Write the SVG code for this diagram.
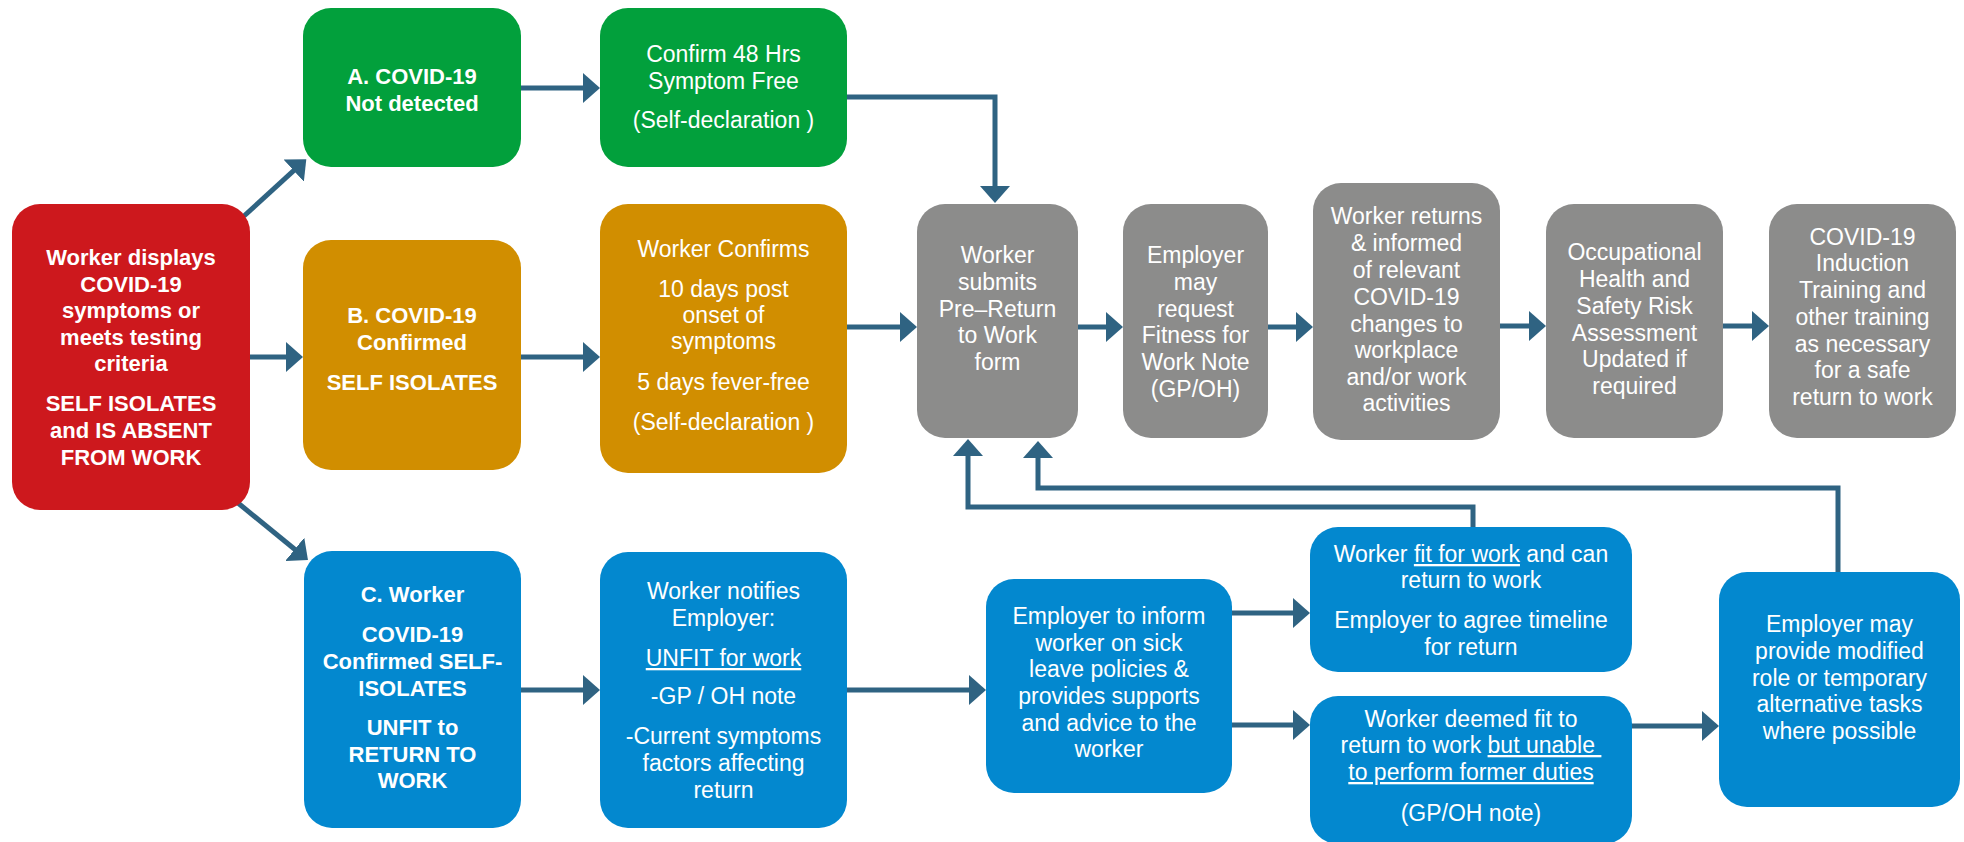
<svg xmlns="http://www.w3.org/2000/svg" width="1964" height="842" viewBox="0 0 1964 842">
<style>
.box{stroke:none}
.red{fill:#CD181D}
.green{fill:#02A03C}
.orange{fill:#D18E00}
.gray{fill:#8C8C8B}
.blue{fill:#0388CF}
text{font-family:"Liberation Sans",Arial,Helvetica,sans-serif;font-size:23px;fill:#FFFFFF;text-anchor:middle}
.b{font-weight:bold;font-size:22px}
.u{text-decoration:underline}
.conn{fill:none;stroke:#2F6382;stroke-width:5;marker-end:url(#ah)}
</style>
<defs>
<marker id="ah" viewBox="0 0 17 30" markerWidth="17" markerHeight="30" refX="7" refY="15" orient="auto" markerUnits="userSpaceOnUse">
<path d="M0,0 L17,15 L0,30 Z" fill="#2F6382"/>
</marker>
</defs>

<g id="connectors">
<path class="conn" d="M244,216 L298.9,165.9"/>
<path class="conn" d="M250,357 L293,357"/>
<path class="conn" d="M238,503 L300.2,553.7"/>
<path class="conn" d="M521,88 L590,88"/>
<path class="conn" d="M520,357 L590,357"/>
<path class="conn" d="M521,690 L590,690"/>
<path class="conn" d="M847,97 L995,97 L995,193"/>
<path class="conn" d="M847,327 L907,327"/>
<path class="conn" d="M1078,327 L1113,327"/>
<path class="conn" d="M1268,327 L1303,327"/>
<path class="conn" d="M1500,326 L1536,326"/>
<path class="conn" d="M1723,326 L1759,326"/>
<path class="conn" d="M847,690 L976,690"/>
<path class="conn" d="M1232,613 L1300,613"/>
<path class="conn" d="M1232,725 L1300,725"/>
<path class="conn" d="M1632,726 L1709,726"/>
<path class="conn" d="M1473,527 L1473,507 L968,507 L968,449"/>
<path class="conn" d="M1838,572 L1838,488 L1038,488 L1038,451"/>
</g>

<g id="n-start">
<rect class="box red" x="12" y="204" width="238" height="306" rx="28"/>
<text class="b"><tspan x="131" y="265">Worker displays</tspan><tspan x="131" y="292">COVID-19</tspan><tspan x="131" y="318">symptoms or</tspan><tspan x="131" y="345">meets testing</tspan><tspan x="131" y="371">criteria</tspan><tspan x="131" y="411">SELF ISOLATES</tspan><tspan x="131" y="438">and IS ABSENT</tspan><tspan x="131" y="465">FROM WORK</tspan></text>
</g>

<g id="n-a">
<rect class="box green" x="303" y="8" width="218" height="159" rx="28"/>
<text class="b"><tspan x="412" y="84">A. COVID-19</tspan><tspan x="412" y="111">Not detected</tspan></text>
</g>

<g id="n-a2">
<rect class="box green" x="600" y="8" width="247" height="159" rx="28"/>
<text><tspan x="723.5" y="62">Confirm 48 Hrs</tspan><tspan x="723.5" y="89">Symptom Free</tspan><tspan x="723.5" y="128">(Self-declaration )</tspan></text>
</g>

<g id="n-b">
<rect class="box orange" x="303" y="240" width="218" height="230" rx="28"/>
<text class="b"><tspan x="412" y="323">B. COVID-19</tspan><tspan x="412" y="350">Confirmed</tspan><tspan x="412" y="390">SELF ISOLATES</tspan></text>
</g>

<g id="n-b2">
<rect class="box orange" x="600" y="204" width="247" height="269" rx="28"/>
<text><tspan x="723.5" y="257">Worker Confirms</tspan><tspan x="723.5" y="297">10 days post</tspan><tspan x="723.5" y="323">onset of</tspan><tspan x="723.5" y="349">symptoms</tspan><tspan x="723.5" y="390">5 days fever-free</tspan><tspan x="723.5" y="430">(Self-declaration )</tspan></text>
</g>

<g id="n-submit">
<rect class="box gray" x="917" y="204" width="161" height="234" rx="28"/>
<text><tspan x="997.5" y="263">Worker</tspan><tspan x="997.5" y="290">submits</tspan><tspan x="997.5" y="317">Pre–Return</tspan><tspan x="997.5" y="343">to Work</tspan><tspan x="997.5" y="370">form</tspan></text>
</g>

<g id="n-fitnote">
<rect class="box gray" x="1123" y="204" width="145" height="234" rx="28"/>
<text><tspan x="1195.5" y="263">Employer</tspan><tspan x="1195.5" y="290">may</tspan><tspan x="1195.5" y="317">request</tspan><tspan x="1195.5" y="343">Fitness for</tspan><tspan x="1195.5" y="370">Work Note</tspan><tspan x="1195.5" y="397">(GP/OH)</tspan></text>
</g>

<g id="n-returns">
<rect class="box gray" x="1313" y="183" width="187" height="257" rx="28"/>
<text><tspan x="1406.5" y="224">Worker returns</tspan><tspan x="1406.5" y="251">&amp; informed</tspan><tspan x="1406.5" y="278">of relevant</tspan><tspan x="1406.5" y="305">COVID-19</tspan><tspan x="1406.5" y="332">changes to</tspan><tspan x="1406.5" y="358">workplace</tspan><tspan x="1406.5" y="385">and/or work</tspan><tspan x="1406.5" y="411">activities</tspan></text>
</g>

<g id="n-risk">
<rect class="box gray" x="1546" y="204" width="177" height="234" rx="28"/>
<text><tspan x="1634.5" y="260">Occupational</tspan><tspan x="1634.5" y="287">Health and</tspan><tspan x="1634.5" y="314">Safety Risk</tspan><tspan x="1634.5" y="341">Assessment</tspan><tspan x="1634.5" y="367">Updated if</tspan><tspan x="1634.5" y="394">required</tspan></text>
</g>

<g id="n-training">
<rect class="box gray" x="1769" y="204" width="187" height="234" rx="28"/>
<text><tspan x="1862.5" y="245">COVID-19</tspan><tspan x="1862.5" y="271">Induction</tspan><tspan x="1862.5" y="298">Training and</tspan><tspan x="1862.5" y="325">other training</tspan><tspan x="1862.5" y="352">as necessary</tspan><tspan x="1862.5" y="378">for a safe</tspan><tspan x="1862.5" y="405">return to work</tspan></text>
</g>

<g id="n-c">
<rect class="box blue" x="304" y="551" width="217" height="277" rx="28"/>
<text class="b"><tspan x="412.5" y="602">C. Worker</tspan><tspan x="412.5" y="642">COVID-19</tspan><tspan x="412.5" y="669">Confirmed SELF-</tspan><tspan x="412.5" y="696">ISOLATES</tspan><tspan x="412.5" y="735">UNFIT to</tspan><tspan x="412.5" y="762">RETURN TO</tspan><tspan x="412.5" y="788">WORK</tspan></text>
</g>

<g id="n-notify">
<rect class="box blue" x="600" y="552" width="247" height="276" rx="28"/>
<text><tspan x="723.5" y="599">Worker notifies</tspan><tspan x="723.5" y="626">Employer:</tspan><tspan x="723.5" y="666" class="u">UNFIT for work</tspan><tspan x="723.5" y="704">-GP / OH note</tspan><tspan x="723.5" y="744">-Current symptoms</tspan><tspan x="723.5" y="771">factors affecting</tspan><tspan x="723.5" y="798">return</tspan></text>
</g>

<g id="n-inform">
<rect class="box blue" x="986" y="579" width="246" height="214" rx="28"/>
<text><tspan x="1109" y="624">Employer to inform</tspan><tspan x="1109" y="651">worker on sick</tspan><tspan x="1109" y="677">leave policies &amp;</tspan><tspan x="1109" y="704">provides supports</tspan><tspan x="1109" y="731">and advice to the</tspan><tspan x="1109" y="757">worker</tspan></text>
</g>

<g id="n-fit">
<rect class="box blue" x="1310" y="527" width="322" height="145" rx="28"/>
<text><tspan x="1471" y="562">Worker <tspan class="u">fit for work</tspan> and can</tspan><tspan x="1471" y="588">return to work</tspan><tspan x="1471" y="628">Employer to agree timeline</tspan><tspan x="1471" y="655">for return</tspan></text>
</g>

<g id="n-deemed">
<rect class="box blue" x="1310" y="696" width="322" height="148" rx="28"/>
<text><tspan x="1471" y="727">Worker deemed fit to</tspan><tspan x="1471" y="753">return to work <tspan class="u">but unable&#160;</tspan></tspan><tspan x="1471" y="780" class="u">to perform former duties</tspan><tspan x="1471" y="821">(GP/OH note)</tspan></text>
</g>

<g id="n-modified">
<rect class="box blue" x="1719" y="572" width="241" height="235" rx="28"/>
<text><tspan x="1839.5" y="632">Employer may</tspan><tspan x="1839.5" y="659">provide modified</tspan><tspan x="1839.5" y="686">role or temporary</tspan><tspan x="1839.5" y="712">alternative tasks</tspan><tspan x="1839.5" y="739">where possible</tspan></text>
</g>
</svg>
